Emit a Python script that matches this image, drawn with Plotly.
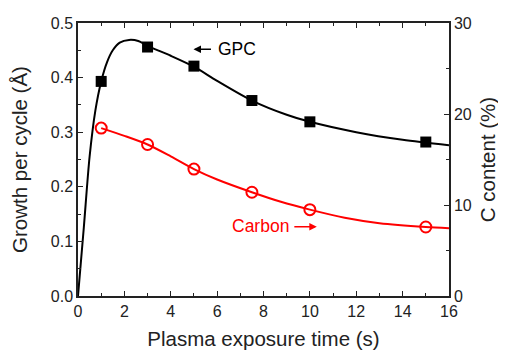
import plotly.graph_objects as go

# Data
time_s = [1, 3, 5, 7.5, 10, 15]
gpc = [0.393, 0.456, 0.421, 0.358, 0.319, 0.282]
carbon = [18.45, 16.65, 13.95, 11.4, 9.49, 7.58]

# Fitted curves
gpc_fit_x = [0, 0.25, 0.5, 0.75, 1.0, 1.25, 1.5, 1.8, 2.2, 2.6, 3.0, 4.0, 5.0, 6.0, 7.5, 9.0, 10, 12, 14, 16]
gpc_fit_y = [0, 0.125, 0.255, 0.34, 0.393, 0.428, 0.450, 0.464, 0.469, 0.467, 0.458, 0.44, 0.42, 0.394, 0.358, 0.332, 0.319, 0.300, 0.286, 0.276]
c_fit_x = [1, 2, 3, 4, 5, 6, 7.5, 8.75, 10, 11.5, 13, 15, 16]
c_fit_y = [18.45, 17.6, 16.65, 15.35, 13.95, 12.8, 11.4, 10.35, 9.49, 8.6, 8.0, 7.58, 7.45]

FONT = "Arial, Liberation Sans, sans-serif"
INK = "#222"

fig = go.Figure()
fig.add_trace(go.Scatter(x=gpc_fit_x, y=gpc_fit_y, mode="lines", line=dict(color="black", width=2, shape="spline", smoothing=0.8), showlegend=False, yaxis="y"))
fig.add_trace(go.Scatter(x=time_s, y=gpc, mode="markers", marker=dict(symbol="square", color="black", size=11), showlegend=False, yaxis="y"))
fig.add_trace(go.Scatter(x=c_fit_x, y=c_fit_y, mode="lines", line=dict(color="#ff0000", width=2, shape="spline", smoothing=0.8), showlegend=False, yaxis="y2"))
fig.add_trace(go.Scatter(x=time_s, y=carbon, mode="markers", marker=dict(symbol="circle-open", color="#ff0000", size=11, line=dict(width=2)), showlegend=False, yaxis="y2"))

axis_common = dict(showline=True, linecolor=INK, linewidth=1.5, ticks="inside", tickcolor=INK,
                   tickwidth=1.2, ticklen=5, showgrid=False, zeroline=False,
                   tickfont=dict(family=FONT, size=16, color=INK))
minor_common = dict(ticks="inside", ticklen=3, tickcolor=INK, tickwidth=1.2)

fig.update_layout(
    width=498, height=343,
    margin=dict(l=70, r=57, t=15, b=55, autoexpand=False),
    paper_bgcolor="white", plot_bgcolor="white",
    font=dict(family=FONT, color=INK),
    xaxis=dict(range=[0, 16], dtick=2, mirror="ticks", automargin=False,
               minor=dict(dtick=1, **minor_common),
               title=dict(text="Plasma exposure time (s)", font=dict(family=FONT, size=20.5, color=INK), standoff=13),
               **axis_common),
    yaxis=dict(range=[0, 0.5], dtick=0.1, tickformat=".1f", automargin=False,
               minor=dict(dtick=0.05, **minor_common),
               title=dict(text="Growth per cycle (Å)", font=dict(family=FONT, size=20.5, color=INK), standoff=19),
               **axis_common),
    yaxis2=dict(range=[0, 30], dtick=10, overlaying="y", side="right", automargin=False,
                minor=dict(dtick=5, **minor_common),
                title=dict(text="C content (%)", font=dict(family=FONT, size=20.5, color=INK), standoff=10),
                **axis_common),
)

# GPC label with left arrow
fig.add_annotation(x=4.98, y=0.452, xref="x", yref="y", ax=19, ay=0, showarrow=True,
                   arrowhead=2, arrowsize=1, arrowwidth=1.5, arrowcolor="black", text="")
fig.add_annotation(x=5.95, y=0.452, xref="x", yref="y", text="GPC", showarrow=False,
                   xanchor="left", font=dict(family=FONT, size=17.5, color="black"))
# Carbon label with right arrow
fig.add_annotation(x=10.3, y=7.6, xref="x", yref="y2", ax=-24, ay=0, showarrow=True,
                   arrowhead=2, arrowsize=1, arrowwidth=1.5, arrowcolor="#ff0000", text="")
fig.add_annotation(x=9.2, y=7.7, xref="x", yref="y2", text="Carbon", showarrow=False,
                   xanchor="right", font=dict(family=FONT, size=17.5, color="#ff0000"))

fig.write_html("out.html")
